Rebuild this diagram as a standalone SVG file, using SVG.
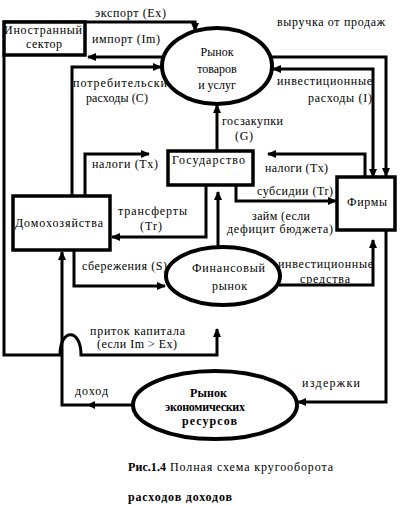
<svg xmlns="http://www.w3.org/2000/svg" width="401" height="505" viewBox="0 0 401 505" font-family="'Liberation Serif', 'DejaVu Serif', serif">
<defs>
<marker id="ah" markerUnits="userSpaceOnUse" markerWidth="9" markerHeight="8" refX="8" refY="4" orient="auto-start-reverse"><path d="M0,0 L9,4 L0,8 z" fill="#000"/></marker>
<style>
.c{fill:none;stroke:#000;stroke-width:3;stroke-linejoin:miter}
.a{marker-end:url(#ah)}
.box{fill:#fff;stroke:#000;stroke-width:3.5}
.ell{fill:#fff;stroke:#000;stroke-width:4}
text{font-family:'Liberation Serif','DejaVu Serif',serif;font-size:12px;fill:#000}
.b{font-weight:bold;font-size:12px}
</style>
</defs>
<rect width="401" height="505" fill="#fff"/>
<g id="connectors">
<path class="c a" d="M4,22 H195 V31"/>
<path class="c a" d="M163,57 H88"/>
<path class="c a" d="M72,196 V67 H161"/>
<path class="c a" d="M85,196 V154 H149"/>
<path class="c a" d="M217,151 V105"/>
<path class="c a" d="M268,57 H386 V176"/>
<path class="c a" d="M373,177 V69 H273" style="marker-start:url(#ah)"/>
<path class="c a" d="M365,177 V154 H268"/>
<path class="c a" d="M236,185 V201 H336"/>
<path class="c a" d="M206,185 V237 H112"/>
<path class="c a" d="M218,248 V192"/>
<path class="c a" d="M74,250 V286 H165"/>
<path class="c a" d="M279,285 H373 V240"/>
<path class="c a" d="M386,230 V402 H298"/>
<path class="c a" d="M134,405 H62 V252"/>
<path d="M95,401 L87,405 L95,409 z" fill="#000"/>
<path class="c a" d="M4,55 V355 H60 C60,328 81,328 81,355 H217 V329"/>
</g>
<g id="foreign">
<rect class="box" x="4" y="22" width="81" height="33"/>
<text x="4" y="34" textLength="78" lengthAdjust="spacing">Иностранный</text>
<text x="26" y="48" textLength="36" lengthAdjust="spacing">сектор</text>
</g>
<g id="goods">
<ellipse class="ell" cx="217" cy="66" rx="55" ry="38"/>
<text x="217" y="56" text-anchor="middle">Рынок</text>
<text x="217" y="73" text-anchor="middle">товаров</text>
<text x="217" y="89" text-anchor="middle">и услуг</text>
</g>
<g id="state">
<rect class="box" x="168" y="151" width="85" height="34"/>
<text x="172" y="164" textLength="73" lengthAdjust="spacing">Государство</text>
</g>
<g id="households">
<rect class="box" x="13" y="196" width="97" height="54"/>
<text x="15" y="227" textLength="88" lengthAdjust="spacing">Домохозяйства</text>
</g>
<g id="firms">
<rect class="box" x="337" y="177" width="58" height="53"/>
<text x="347" y="206" textLength="40" lengthAdjust="spacing">Фирмы</text>
</g>
<g id="financial">
<ellipse class="ell" cx="223" cy="276" rx="57" ry="29"/>
<text x="192" y="272" textLength="73" lengthAdjust="spacing">Финансовый</text>
<text x="212" y="290" textLength="35" lengthAdjust="spacing">рынок</text>
</g>
<g id="resources">
<ellipse class="ell" cx="215" cy="405" rx="82" ry="34"/>
<text class="b" x="190" y="397" textLength="37" lengthAdjust="spacing">Рынок</text>
<text class="b" x="165" y="411" textLength="80" lengthAdjust="spacing">экономических</text>
<text class="b" x="182" y="425" textLength="55" lengthAdjust="spacing">ресурсов</text>
</g>
<g id="labels">
<text x="95" y="17" textLength="71" lengthAdjust="spacing">экспорт (Ex)</text>
<text x="92" y="43" textLength="68" lengthAdjust="spacing">импорт (Im)</text>
<text x="277" y="26" textLength="108" lengthAdjust="spacing">выручка от продаж</text>
<text x="73" y="87" textLength="94" lengthAdjust="spacing">потребительски</text>
<text x="86" y="102" textLength="62" lengthAdjust="spacing">расходы (C)</text>
<text x="277" y="85" textLength="95" lengthAdjust="spacing">инвестиционные</text>
<text x="308" y="102" textLength="64" lengthAdjust="spacing">расходы (I)</text>
<text x="222" y="125" textLength="61" lengthAdjust="spacing">госзакупки</text>
<text x="235" y="140" textLength="18" lengthAdjust="spacing">(G)</text>
<text x="92" y="168" textLength="66" lengthAdjust="spacing">налоги (Tx)</text>
<text x="265" y="172" textLength="63" lengthAdjust="spacing">налоги (Tx)</text>
<text x="257" y="195" textLength="76" lengthAdjust="spacing">субсидии (Tr)</text>
<text x="118" y="215" textLength="69" lengthAdjust="spacing">трансферты</text>
<text x="140" y="230" textLength="22" lengthAdjust="spacing">(Tr)</text>
<text x="252" y="220" textLength="58" lengthAdjust="spacing">займ (если</text>
<text x="227" y="233" textLength="106" lengthAdjust="spacing">дефицит бюджета)</text>
<text x="82" y="270" textLength="85" lengthAdjust="spacing">сбережения (S)</text>
<text x="278" y="268" textLength="95" lengthAdjust="spacing">инвестиционные</text>
<text x="300" y="283" textLength="50" lengthAdjust="spacing">средства</text>
<text x="90" y="335" textLength="95" lengthAdjust="spacing">приток капитала</text>
<text x="97" y="348" textLength="80" lengthAdjust="spacing">(если Im &gt; Ex)</text>
<text x="75" y="395" textLength="33" lengthAdjust="spacing">доход</text>
<text x="302" y="387" textLength="58" lengthAdjust="spacing">издержки</text>
<text class="b" x="128" y="471" textLength="38" lengthAdjust="spacing">Рис.1.4</text>
<text x="170" y="471" textLength="163" lengthAdjust="spacing">Полная схема кругооборота</text>
<text class="b" x="128" y="501" textLength="104" lengthAdjust="spacing">расходов доходов</text>
</g>
</svg>
